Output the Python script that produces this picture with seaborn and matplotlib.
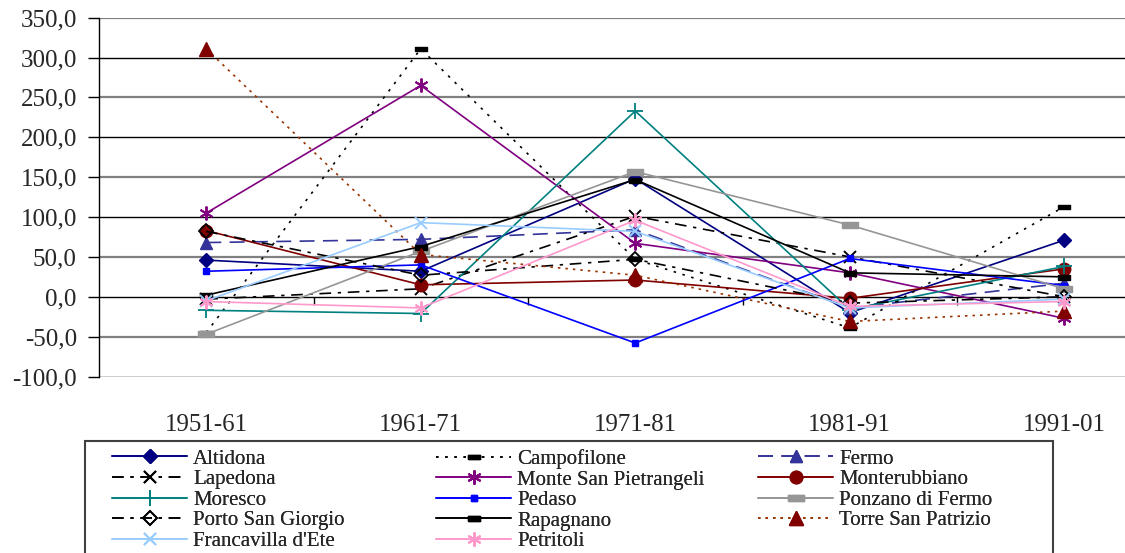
import matplotlib
matplotlib.use("Agg")
import matplotlib.pyplot as plt
import seaborn as sns
from matplotlib.ticker import FuncFormatter, FixedLocator
from matplotlib.patches import Rectangle

# Percentage population change per decade
periods = ["1951-61", "1961-71", "1971-81", "1981-91", "1991-01"]

altidona = [46, 32, 148, -20, 71]
campofilone = [-45, 311, 47, -39, 113]
fermo = [68, 72, 84, -14, 17]
lapedona = [-3, 10, 101, 50, 0]
monte_san_pietrangeli = [105, 265, 67, 30, -27]
monterubbiano = [83, 15, 21, -2, 35]
moresco = [-17, -21, 233, -16, 38]
pedaso = [32, 40, -58, 48, 14]
ponzano_di_fermo = [-47, 57, 157, 90, 10]
porto_san_giorgio = [82, 27, 47, -8, 0]
rapagnano = [2, 63, 147, 30, 25]
torre_san_patrizio = [311, 53, 27, -31, -18]
francavilla_d_ete = [-5, 93, 82, -14, -3]
petritoli = [-6, -14, 96, -12, -6]

names = ["Altidona", "Campofilone", "Fermo", "Lapedona",
         "Monte San Pietrangeli", "Monterubbiano", "Moresco", "Pedaso",
         "Ponzano di Fermo", "Porto San Giorgio", "Rapagnano",
         "Torre San Patrizio", "Francavilla d'Ete", "Petritoli"]
values = [altidona, campofilone, fermo, lapedona, monte_san_pietrangeli,
          monterubbiano, moresco, pedaso, ponzano_di_fermo, porto_san_giorgio,
          rapagnano, torre_san_patrizio, francavilla_d_ete, petritoli]

y_ticks = [-100, -50, 0, 50, 100, 150, 200, 250, 300, 350]

bar = [(-1, -0.4), (1, -0.4), (1, 0.4), (-1, 0.4), (-1, -0.4)]
star = (6, 2, 0)
dashdot = (0, (7, 4, 2, 4))

styles = [
    dict(color="#000080", ls="-", marker="D", ms=7, mfc="#000080", mec="#000080", mew=1),
    dict(color="black", ls=(0, (1.5, 4)), marker=bar, ms=8, mfc="black", mec="black", mew=1),
    dict(color="#333399", ls=(0, (9, 5)), marker="^", ms=9, mfc="#333399", mec="#333399", mew=1),
    dict(color="black", ls=dashdot, marker="x", ms=8, mfc="black", mec="black", mew=1.4),
    dict(color="#800080", ls="-", marker=star, ms=10, mfc="#800080", mec="#800080", mew=1.4),
    dict(color="#800000", ls="-", marker="o", ms=9, mfc="#800000", mec="#800000", mew=1),
    dict(color="#008080", ls="-", marker="+", ms=11, mfc="#008080", mec="#008080", mew=1.3),
    dict(color="#0000FF", ls="-", marker="s", ms=5, mfc="#0000FF", mec="#0000FF", mew=1),
    dict(color="#969696", ls="-", marker=bar, ms=11, mfc="#969696", mec="#969696", mew=1),
    dict(color="black", ls=dashdot, marker="D", ms=7, mfc="none", mec="black", mew=1.3),
    dict(color="black", ls="-", marker=bar, ms=9, mfc="black", mec="black", mew=1),
    dict(color="#993300", ls=(0, (1.5, 3)), marker="^", ms=10, mfc="#800000", mec="#800000", mew=1),
    dict(color="#99CCFF", ls="-", marker="x", ms=8, mfc="#99CCFF", mec="#99CCFF", mew=1.4),
    dict(color="#FF99CC", ls="-", marker=star, ms=10, mfc="#FF99CC", mec="#FF99CC", mew=1.4),
]

sns.set_style("white")
plt.rcParams["font.family"] = ["Liberation Serif", "DejaVu Serif"]

fig = plt.figure(figsize=(11.25, 5.53), dpi=100)
ax = fig.add_axes([99 / 1125, 1 - 376.5 / 553, 1072.5 / 1125, (376.5 - 17.7) / 553])

handles = []
for name, vals, st in zip(names, values, styles):
    sns.lineplot(x=periods, y=vals, ax=ax, errorbar=None, sort=False,
                 color=st["color"], linestyle=st["ls"], linewidth=1.2,
                 marker=st["marker"], markersize=st["ms"],
                 markerfacecolor=st["mfc"], markeredgecolor=st["mec"],
                 markeredgewidth=st["mew"], label=name, legend=False)
    handles.append(ax.lines[-1])

ax.set_xlim(-0.5, 4.5)
ax.set_ylim(-100, 350)

# alternating horizontal gridlines
for v in y_ticks:
    if (v // 50) % 2:
        ax.axhline(v, color="#808080", lw=1.6, zorder=0)
    else:
        ax.axhline(v, color="black", lw=1.0, zorder=0)

# small category dividers hanging from the zero line
ax.vlines([0.5, 1.5, 2.5, 3.5], -10, 0, color="black", lw=1.0, zorder=0)

ax.yaxis.set_major_locator(FixedLocator(y_ticks))
ax.yaxis.set_major_formatter(FuncFormatter(lambda v, p: f"{v:.1f}".replace(".", ",")))
ax.tick_params(axis="y", direction="out", length=8, width=1, color="black",
               labelsize=18, pad=8, left=True)
ax.tick_params(axis="x", length=0, labelsize=18, pad=27)
ax.set_xlabel("")
ax.set_ylabel("")

for s in ["top", "right", "bottom"]:
    ax.spines[s].set_visible(False)
ax.spines["left"].set_color("black")
ax.spines["left"].set_linewidth(1.0)

# legend: three fixed-width columns, filled row by row
fig.patches.append(Rectangle((85 / 1125, -0.05), (1053 - 85) / 1125, 0.05 + 1 - 441 / 553,
                             transform=fig.transFigure, fill=False,
                             edgecolor="#404040", lw=1.5))
col_x = [112, 436, 758]
for c in range(3):
    idx = list(range(c, len(names), 3))
    leg = fig.legend([handles[i] for i in idx], [names[i] for i in idx],
                     loc="upper left", bbox_to_anchor=(col_x[c] / 1125, 1 - 449 / 553),
                     frameon=False, borderpad=0, borderaxespad=0,
                     handlelength=3.6, handletextpad=0.3, labelspacing=0.05,
                     numpoints=1, prop={"family": "Liberation Serif", "size": 15})
    fig.add_artist(leg)

fig.savefig("out.png", dpi=100)
